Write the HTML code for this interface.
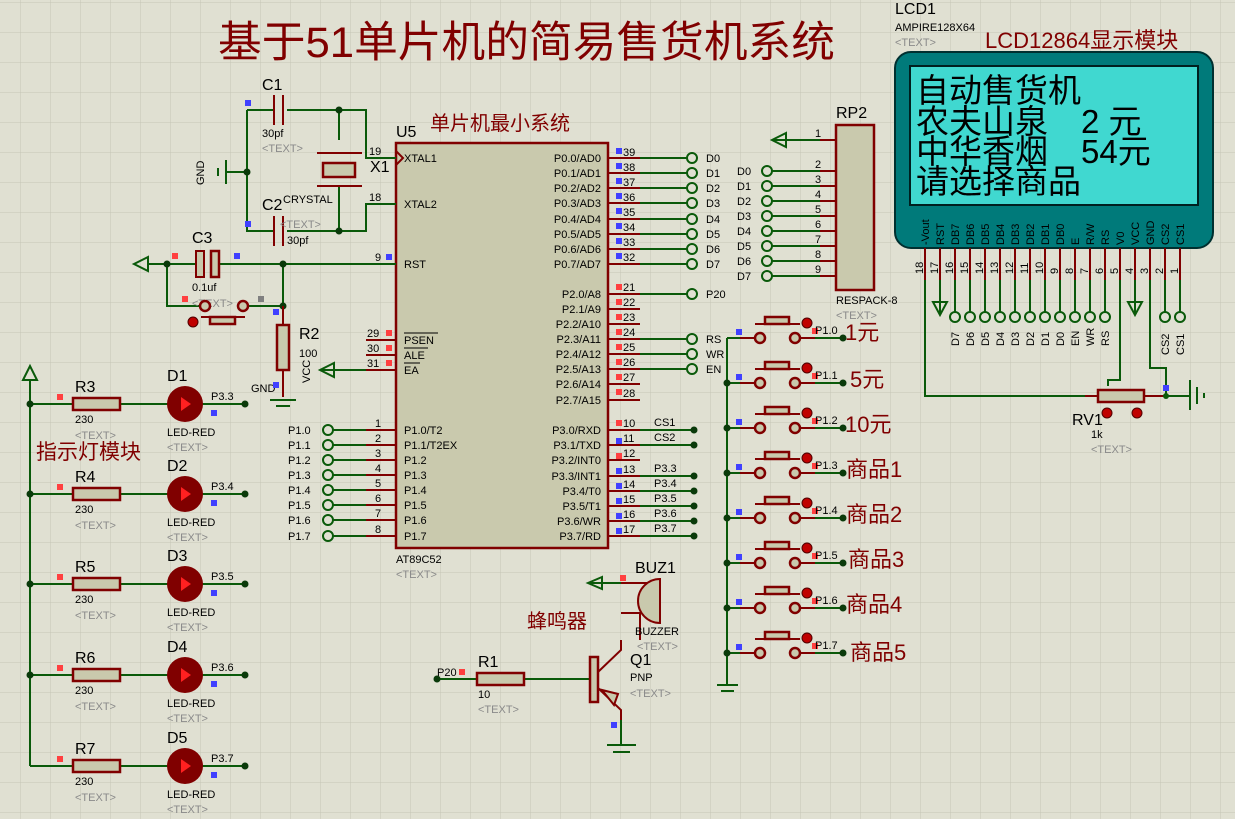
<!DOCTYPE html>
<html><head><meta charset="utf-8"><style>
html,body{margin:0;padding:0;background:#e0e0d2;}
svg{display:block;font-family:"Liberation Sans","Noto Sans CJK SC",sans-serif;}
.w{stroke:#0a5a0a;stroke-width:2;fill:none}
.p{stroke:#800000;stroke-width:2;fill:none}
.b{fill:#c9c9ad;stroke:#800000;stroke-width:2.5}
.t{font-size:11px;fill:#000}
.g{font-size:11px;fill:#8a8a8a}
.n{font-size:16px;fill:#000}
.r{fill:#800000}
.c{fill:#e0e0d2;stroke:#0a5a0a;stroke-width:2}
.bs{fill:#4040ff}.rs{fill:#ff4040}
</style></head><body>
<svg width="1235" height="819" viewBox="0 0 1235 819" xmlns="http://www.w3.org/2000/svg">
<defs>
<pattern id="grid" width="30" height="30" patternUnits="userSpaceOnUse" x="20" y="2">
<path d="M0 0H30M0 0V30" stroke="#c6c6b6" stroke-width="1" fill="none"/>
</pattern>
</defs>
<rect width="1235" height="819" fill="#e0e0d2"/>
<rect width="1235" height="819" fill="url(#grid)"/>

<!-- Title -->
<text x="218" y="57" font-size="43" fill="#800000" textLength="617" lengthAdjust="spacingAndGlyphs">基于51单片机的简易售货机系统</text>

<!-- LCD -->
<text x="895" y="14" class="n">LCD1</text>
<text x="895" y="31" class="t">AMPIRE128X64</text>
<text x="895" y="46" class="g">&lt;TEXT&gt;</text>
<text x="985" y="48" font-size="22" fill="#800000">LCD12864显示模块</text>
<rect x="895" y="52" width="318" height="196" rx="16" fill="#007a7a" stroke="#003030" stroke-width="2"/>
<rect x="910" y="66" width="288" height="139" fill="#40d8d0" stroke="#002020" stroke-width="2"/>
<g font-size="33" fill="#000">
<text x="916" y="102">自动售货机</text>
<text x="916" y="133">农夫山泉　2 元</text>
<text x="916" y="163">中华香烟　54元</text>
<text x="916" y="193">请选择商品</text>
</g>
<g font-size="11" fill="#000">
<text transform="translate(929,245) rotate(-90)">-Vout</text>
<text transform="translate(944,245) rotate(-90)">RST</text>
<text transform="translate(959,245) rotate(-90)">DB7</text>
<text transform="translate(974,245) rotate(-90)">DB6</text>
<text transform="translate(989,245) rotate(-90)">DB5</text>
<text transform="translate(1004,245) rotate(-90)">DB4</text>
<text transform="translate(1019,245) rotate(-90)">DB3</text>
<text transform="translate(1034,245) rotate(-90)">DB2</text>
<text transform="translate(1049,245) rotate(-90)">DB1</text>
<text transform="translate(1064,245) rotate(-90)">DB0</text>
<text transform="translate(1079,245) rotate(-90)">E</text>
<text transform="translate(1094,245) rotate(-90)">R/W</text>
<text transform="translate(1109,245) rotate(-90)">RS</text>
<text transform="translate(1124,245) rotate(-90)">V0</text>
<text transform="translate(1139,245) rotate(-90)">VCC</text>
<text transform="translate(1154,245) rotate(-90)">GND</text>
<text transform="translate(1169,245) rotate(-90)">CS2</text>
<text transform="translate(1184,245) rotate(-90)">CS1</text>
</g>
<path class="p" d="M925 248V280M940 248V280M955 248V280M970 248V280M985 248V280M1000 248V280M1015 248V280M1030 248V280M1045 248V280M1060 248V280M1075 248V280M1090 248V280M1105 248V280M1120 248V280M1135 248V280M1150 248V280M1165 248V280M1180 248V280"/>
<g font-size="11" fill="#000">
<text transform="translate(923,274) rotate(-90)">18</text><text transform="translate(938,274) rotate(-90)">17</text>
<text transform="translate(953,274) rotate(-90)">16</text><text transform="translate(968,274) rotate(-90)">15</text>
<text transform="translate(983,274) rotate(-90)">14</text><text transform="translate(998,274) rotate(-90)">13</text>
<text transform="translate(1013,274) rotate(-90)">12</text><text transform="translate(1028,274) rotate(-90)">11</text>
<text transform="translate(1043,274) rotate(-90)">10</text><text transform="translate(1058,274) rotate(-90)">9</text>
<text transform="translate(1073,274) rotate(-90)">8</text><text transform="translate(1088,274) rotate(-90)">7</text>
<text transform="translate(1103,274) rotate(-90)">6</text><text transform="translate(1118,274) rotate(-90)">5</text>
<text transform="translate(1133,274) rotate(-90)">4</text><text transform="translate(1148,274) rotate(-90)">3</text>
<text transform="translate(1163,274) rotate(-90)">2</text><text transform="translate(1178,274) rotate(-90)">1</text>
</g>
<path class="w" d="M925 280V396H1100M940 280V313M955 280V312M970 280V312M985 280V312M1000 280V312M1015 280V312M1030 280V312M1045 280V312M1060 280V312M1075 280V312M1090 280V312M1105 280V312M1120 280V380H1108V386M1135 280V313M1150 280V368H1166V396H1190M1165 280V312M1180 280V312"/>
<path class="w" d="M933 302L940 315L947 302Z M1128 302L1135 315L1142 302Z"/>
<g class="c"><circle cx="955" cy="317" r="5"/><circle cx="970" cy="317" r="5"/><circle cx="985" cy="317" r="5"/><circle cx="1000" cy="317" r="5"/><circle cx="1015" cy="317" r="5"/><circle cx="1030" cy="317" r="5"/><circle cx="1045" cy="317" r="5"/><circle cx="1060" cy="317" r="5"/><circle cx="1075" cy="317" r="5"/><circle cx="1090" cy="317" r="5"/><circle cx="1105" cy="317" r="5"/><circle cx="1165" cy="317" r="5"/><circle cx="1180" cy="317" r="5"/></g>
<g font-size="11" fill="#000">
<text transform="translate(959,346) rotate(-90)">D7</text><text transform="translate(974,346) rotate(-90)">D6</text>
<text transform="translate(989,346) rotate(-90)">D5</text><text transform="translate(1004,346) rotate(-90)">D4</text>
<text transform="translate(1019,346) rotate(-90)">D3</text><text transform="translate(1034,346) rotate(-90)">D2</text>
<text transform="translate(1049,346) rotate(-90)">D1</text><text transform="translate(1064,346) rotate(-90)">D0</text>
<text transform="translate(1079,346) rotate(-90)">EN</text><text transform="translate(1094,346) rotate(-90)">WR</text>
<text transform="translate(1109,346) rotate(-90)">RS</text>
<text transform="translate(1169,355) rotate(-90)">CS2</text><text transform="translate(1184,355) rotate(-90)">CS1</text>
</g>
<rect x="1098" y="390" width="46" height="12" class="b" stroke-width="2"/>
<path class="p" d="M1085 396H1098M1144 396H1166"/>
<circle cx="1166" cy="396" r="3" fill="#0a5a0a"/>
<path class="w" d="M1190 380V410M1197 387V404M1204 393V398" stroke-width="2"/>
<circle cx="1107" cy="413" r="5" fill="#c00000" stroke="#500000"/><circle cx="1137" cy="413" r="5" fill="#c00000" stroke="#500000"/>
<text x="1072" y="425" class="n">RV1</text><text x="1091" y="438" class="t">1k</text><text x="1091" y="453" class="g">&lt;TEXT&gt;</text>
<rect x="1163" y="385" width="6" height="6" class="bs"/>

<!-- RP2 -->
<text x="836" y="118" class="n">RP2</text>
<rect x="836" y="125" width="38" height="165" class="b"/>
<text x="836" y="304" class="t">RESPACK-8</text><text x="836" y="319" class="g">&lt;TEXT&gt;</text>
<path class="p" d="M820 140H836M820 171H836M820 186H836M820 201H836M820 216H836M820 231H836M820 246H836M820 261H836M820 276H836"/>
<path class="w" d="M772 140H820M786 133L772 140L786 147ZM772 171H820M772 186H820M772 201H820M772 216H820M772 231H820M772 246H820M772 261H820M772 276H820"/>
<g class="c"><circle cx="767" cy="171" r="5"/><circle cx="767" cy="186" r="5"/><circle cx="767" cy="201" r="5"/><circle cx="767" cy="216" r="5"/><circle cx="767" cy="231" r="5"/><circle cx="767" cy="246" r="5"/><circle cx="767" cy="261" r="5"/><circle cx="767" cy="276" r="5"/></g>
<g class="t" font-size="12"><text x="737" y="175">D0</text><text x="737" y="190">D1</text><text x="737" y="205">D2</text><text x="737" y="220">D3</text><text x="737" y="235">D4</text><text x="737" y="250">D5</text><text x="737" y="265">D6</text><text x="737" y="280">D7</text>
<text x="815" y="137">1</text><text x="815" y="168">2</text><text x="815" y="183">3</text><text x="815" y="198">4</text><text x="815" y="213">5</text><text x="815" y="228">6</text><text x="815" y="243">7</text><text x="815" y="258">8</text><text x="815" y="273">9</text></g>

<!-- U5 chip -->
<text x="396" y="137" class="n">U5</text>
<text x="430" y="130" font-size="20" fill="#800000">单片机最小系统</text>
<rect x="396" y="143" width="212" height="405" class="b"/>
<text x="396" y="563" class="t">AT89C52</text><text x="396" y="578" class="g">&lt;TEXT&gt;</text>
<path class="p" d="M366 158H396M366 204H396M366 264H396M366 340H396M366 355H396M366 370H396M366 430H396M366 445H396M366 460H396M366 475H396M366 490H396M366 505H396M366 520H396M366 536H396"/>
<path class="p" d="M608 158H640M608 173H640M608 188H640M608 203H640M608 219H640M608 234H640M608 249H640M608 264H640M608 294H640M608 309H640M608 324H640M608 339H640M608 354H640M608 369H640M608 384H640M608 400H640M608 430H640M608 445H640M608 460H640M608 476H640M608 491H640M608 506H640M608 521H640M608 536H640"/>
<path class="w" d="M640 158H687M640 173H687M640 188H687M640 203H687M640 219H687M640 234H687M640 249H687M640 264H687M640 294H687M640 339H687M640 354H687M640 369H687M640 430H694M640 445H694M640 476H694M640 491H694M640 506H694M640 521H694M640 536H694"/>
<g class="c"><circle cx="692" cy="158" r="5"/><circle cx="692" cy="173" r="5"/><circle cx="692" cy="188" r="5"/><circle cx="692" cy="203" r="5"/><circle cx="692" cy="219" r="5"/><circle cx="692" cy="234" r="5"/><circle cx="692" cy="249" r="5"/><circle cx="692" cy="264" r="5"/><circle cx="692" cy="294" r="5"/><circle cx="692" cy="339" r="5"/><circle cx="692" cy="354" r="5"/><circle cx="692" cy="369" r="5"/></g>
<g fill="#0a3a0a"><circle cx="694" cy="430" r="3.5"/><circle cx="694" cy="445" r="3.5"/><circle cx="694" cy="476" r="3.5"/><circle cx="694" cy="491" r="3.5"/><circle cx="694" cy="506" r="3.5"/><circle cx="694" cy="521" r="3.5"/><circle cx="694" cy="536" r="3.5"/></g>
<g font-size="11" fill="#000">
<text x="706" y="162">D0</text><text x="706" y="177">D1</text><text x="706" y="192">D2</text><text x="706" y="207">D3</text><text x="706" y="223">D4</text><text x="706" y="238">D5</text><text x="706" y="253">D6</text><text x="706" y="268">D7</text><text x="706" y="298">P20</text>
<text x="706" y="343">RS</text><text x="706" y="358">WR</text><text x="706" y="373">EN</text>
<text x="654" y="426">CS1</text><text x="654" y="441">CS2</text><text x="654" y="472">P3.3</text><text x="654" y="487">P3.4</text><text x="654" y="502">P3.5</text><text x="654" y="517">P3.6</text><text x="654" y="532">P3.7</text>
<text x="623" y="156">39</text><text x="623" y="171">38</text><text x="623" y="186">37</text><text x="623" y="201">36</text><text x="623" y="216">35</text><text x="623" y="231">34</text><text x="623" y="246">33</text><text x="623" y="261">32</text>
<text x="623" y="291">21</text><text x="623" y="306">22</text><text x="623" y="321">23</text><text x="623" y="336">24</text><text x="623" y="351">25</text><text x="623" y="366">26</text><text x="623" y="381">27</text><text x="623" y="397">28</text>
<text x="623" y="427">10</text><text x="623" y="442">11</text><text x="623" y="457">12</text><text x="623" y="473">13</text><text x="623" y="488">14</text><text x="623" y="503">15</text><text x="623" y="518">16</text><text x="623" y="533">17</text>
<g text-anchor="end">
<text x="601" y="162">P0.0/AD0</text><text x="601" y="177">P0.1/AD1</text><text x="601" y="192">P0.2/AD2</text><text x="601" y="207">P0.3/AD3</text><text x="601" y="223">P0.4/AD4</text><text x="601" y="238">P0.5/AD5</text><text x="601" y="253">P0.6/AD6</text><text x="601" y="268">P0.7/AD7</text>
<text x="601" y="298">P2.0/A8</text><text x="601" y="313">P2.1/A9</text><text x="601" y="328">P2.2/A10</text><text x="601" y="343">P2.3/A11</text><text x="601" y="358">P2.4/A12</text><text x="601" y="373">P2.5/A13</text><text x="601" y="388">P2.6/A14</text><text x="601" y="404">P2.7/A15</text>
<text x="601" y="434">P3.0/RXD</text><text x="601" y="449">P3.1/TXD</text><text x="601" y="464">P3.2/INT0</text><text x="601" y="480">P3.3/INT1</text><text x="601" y="495">P3.4/T0</text><text x="601" y="510">P3.5/T1</text><text x="601" y="525">P3.6/WR</text><text x="601" y="540">P3.7/RD</text>
</g>
<text x="404" y="162">XTAL1</text><text x="404" y="208">XTAL2</text><text x="404" y="268">RST</text>
<text x="404" y="344">PSEN</text><text x="404" y="359">ALE</text><text x="404" y="374">EA</text>
<text x="404" y="434">P1.0/T2</text><text x="404" y="449">P1.1/T2EX</text><text x="404" y="464">P1.2</text><text x="404" y="479">P1.3</text><text x="404" y="494">P1.4</text><text x="404" y="509">P1.5</text><text x="404" y="524">P1.6</text><text x="404" y="540">P1.7</text>
<text x="369" y="155">19</text><text x="369" y="201">18</text><text x="375" y="261">9</text><text x="367" y="337">29</text><text x="367" y="352">30</text><text x="367" y="367">31</text>
<text x="375" y="427">1</text><text x="375" y="442">2</text><text x="375" y="457">3</text><text x="375" y="472">4</text><text x="375" y="487">5</text><text x="375" y="502">6</text><text x="375" y="517">7</text><text x="375" y="533">8</text>
<text x="288" y="434">P1.0</text><text x="288" y="449">P1.1</text><text x="288" y="464">P1.2</text><text x="288" y="479">P1.3</text><text x="288" y="494">P1.4</text><text x="288" y="509">P1.5</text><text x="288" y="524">P1.6</text><text x="288" y="540">P1.7</text>
</g>
<path stroke="#000" stroke-width="1" d="M404 333H438M404 348H428M404 363H420"/>
<path class="w" d="M333 430H366M333 445H366M333 460H366M333 475H366M333 490H366M333 505H366M333 520H366M333 536H366"/>
<g class="c"><circle cx="328" cy="430" r="5"/><circle cx="328" cy="445" r="5"/><circle cx="328" cy="460" r="5"/><circle cx="328" cy="475" r="5"/><circle cx="328" cy="490" r="5"/><circle cx="328" cy="505" r="5"/><circle cx="328" cy="520" r="5"/><circle cx="328" cy="536" r="5"/></g>
<g class="bs"><rect x="616" y="148" width="6" height="6"/><rect x="616" y="163" width="6" height="6"/><rect x="616" y="178" width="6" height="6"/><rect x="616" y="193" width="6" height="6"/><rect x="616" y="208" width="6" height="6"/><rect x="616" y="223" width="6" height="6"/><rect x="616" y="238" width="6" height="6"/><rect x="616" y="253" width="6" height="6"/>
<rect x="616" y="438" width="6" height="6"/><rect x="616" y="468" width="6" height="6"/><rect x="616" y="483" width="6" height="6"/><rect x="616" y="498" width="6" height="6"/><rect x="616" y="513" width="6" height="6"/><rect x="616" y="528" width="6" height="6"/><rect x="386" y="254" width="6" height="6"/></g>
<g class="rs"><rect x="616" y="284" width="6" height="6"/><rect x="616" y="299" width="6" height="6"/><rect x="616" y="314" width="6" height="6"/><rect x="616" y="329" width="6" height="6"/><rect x="616" y="344" width="6" height="6"/><rect x="616" y="359" width="6" height="6"/><rect x="616" y="374" width="6" height="6"/><rect x="616" y="389" width="6" height="6"/><rect x="616" y="420" width="6" height="6"/><rect x="616" y="453" width="6" height="6"/>
<rect x="386" y="330" width="6" height="6"/><rect x="386" y="345" width="6" height="6"/><rect x="386" y="360" width="6" height="6"/></g>

<!-- crystal section -->
<text x="262" y="90" class="n">C1</text><text x="262" y="137" class="t">30pf</text><text x="262" y="152" class="g">&lt;TEXT&gt;</text>
<path class="w" d="M247 110H274M287 110H366V158H396M339 110V140M247 110V231H274M287 231H366V204H396M339 186V231M227 172H247"/>
<path class="p" d="M274 95V125M283 95V125M274 216V246M283 216V246M317 153H362M317 186H362"/>
<rect x="323" y="163" width="32" height="14" class="b" stroke-width="2"/>
<circle cx="339" cy="110" r="3.5" fill="#0a3a0a"/><circle cx="339" cy="231" r="3.5" fill="#0a3a0a"/><circle cx="247" cy="172" r="3.5" fill="#0a3a0a"/>
<path class="w" d="M226 160V184M218 168V176"/>
<text transform="translate(204,185) rotate(-90)" class="t">GND</text>
<text x="370" y="172" class="n" font-size="18">X1</text><text x="283" y="203" class="t">CRYSTAL</text>
<text x="262" y="210" class="n">C2</text><text x="280" y="228" class="g">&lt;TEXT&gt;</text><text x="287" y="244" class="t">30pf</text>
<rect x="245" y="100" width="6" height="6" class="bs"/><rect x="245" y="221" width="6" height="6" class="bs"/>
<path d="M396 151L403 158L396 165" class="p" stroke-width="1.5"/>

<!-- RST -->
<text x="192" y="243" class="n">C3</text>
<path class="w" d="M148 264H196M220 264H396M167 264V306H200M248 306H283M283 264V306"/>
<path d="M148 257L134 264L148 271Z" class="w"/>
<rect x="196" y="251" width="8" height="26" fill="#c9c9ad" stroke="#800000" stroke-width="2"/>
<rect x="211" y="251" width="8" height="26" class="b" stroke-width="2"/>
<circle cx="167" cy="264" r="3.5" fill="#0a3a0a"/><circle cx="283" cy="264" r="3.5" fill="#0a3a0a"/><circle cx="283" cy="306" r="3.5" fill="#0a3a0a"/>
<text x="192" y="291" class="t">0.1uf</text><text x="192" y="307" class="g">&lt;TEXT&gt;</text>
<circle cx="205" cy="306" r="5" class="b" stroke-width="2"/><circle cx="243" cy="306" r="5" class="b" stroke-width="2"/>
<rect x="210" y="317" width="25" height="7" class="b" stroke-width="2"/><path class="p" d="M201 317H245"/>
<circle cx="193" cy="322" r="5" fill="#c00000" stroke="#500000"/>
<rect x="277" y="325" width="12" height="45" class="b" stroke-width="2"/>
<path class="p" d="M283 306V325M283 370V397"/>
<path class="w" d="M270 400H296M276 406H290"/>
<text x="299" y="339" class="n">R2</text><text x="299" y="357" class="t">100</text>
<text x="251" y="392" class="t">GND</text><text transform="translate(310,383) rotate(-90)" class="t">VCC</text>
<path class="w" d="M320 370H366M334 363L320 370L334 377Z"/>
<rect x="172" y="253" width="6" height="6" class="rs"/><rect x="234" y="253" width="6" height="6" class="bs"/><rect x="182" y="296" width="6" height="6" class="rs"/><rect x="258" y="296" width="6" height="6" fill="#808080"/><rect x="273" y="309" width="6" height="6" class="bs"/><rect x="273" y="382" width="6" height="6" class="bs"/>

<!-- LED module -->
<path class="w" d="M30 380V766M23 380L30 366L37 380Z"/>
<text x="36" y="459" font-size="21" fill="#800000">指示灯模块</text>
<g>
<path class="w" d="M30 404H73M121 404H168M200 404H245"/><rect x="73" y="398" width="47" height="12" class="b" stroke-width="2"/>
<circle cx="30" cy="404" r="3.5" fill="#0a3a0a"/><circle cx="245" cy="404" r="3.5" fill="#0a3a0a"/>
<circle cx="185" cy="404" r="18" fill="#800000"/><path d="M181 397L191 404L181 411Z" fill="#ff2020"/>
<text x="75" y="392" class="n">R3</text><text x="75" y="423" class="t">230</text><text x="75" y="439" class="g">&lt;TEXT&gt;</text>
<text x="167" y="381" class="n">D1</text><text x="167" y="436" class="t">LED-RED</text><text x="167" y="451" class="g">&lt;TEXT&gt;</text><text x="211" y="400" class="t">P3.3</text>
<rect x="57" y="394" width="6" height="6" class="rs"/><rect x="211" y="410" width="6" height="6" class="bs"/>
</g>
<g transform="translate(0,90)">
<path class="w" d="M30 404H73M121 404H168M200 404H245"/><rect x="73" y="398" width="47" height="12" class="b" stroke-width="2"/>
<circle cx="30" cy="404" r="3.5" fill="#0a3a0a"/><circle cx="245" cy="404" r="3.5" fill="#0a3a0a"/>
<circle cx="185" cy="404" r="18" fill="#800000"/><path d="M181 397L191 404L181 411Z" fill="#ff2020"/>
<text x="75" y="392" class="n">R4</text><text x="75" y="423" class="t">230</text><text x="75" y="439" class="g">&lt;TEXT&gt;</text>
<text x="167" y="381" class="n">D2</text><text x="167" y="436" class="t">LED-RED</text><text x="167" y="451" class="g">&lt;TEXT&gt;</text><text x="211" y="400" class="t">P3.4</text>
<rect x="57" y="394" width="6" height="6" class="rs"/><rect x="211" y="410" width="6" height="6" class="bs"/>
</g>
<g transform="translate(0,180)">
<path class="w" d="M30 404H73M121 404H168M200 404H245"/><rect x="73" y="398" width="47" height="12" class="b" stroke-width="2"/>
<circle cx="30" cy="404" r="3.5" fill="#0a3a0a"/><circle cx="245" cy="404" r="3.5" fill="#0a3a0a"/>
<circle cx="185" cy="404" r="18" fill="#800000"/><path d="M181 397L191 404L181 411Z" fill="#ff2020"/>
<text x="75" y="392" class="n">R5</text><text x="75" y="423" class="t">230</text><text x="75" y="439" class="g">&lt;TEXT&gt;</text>
<text x="167" y="381" class="n">D3</text><text x="167" y="436" class="t">LED-RED</text><text x="167" y="451" class="g">&lt;TEXT&gt;</text><text x="211" y="400" class="t">P3.5</text>
<rect x="57" y="394" width="6" height="6" class="rs"/><rect x="211" y="410" width="6" height="6" class="bs"/>
</g>
<g transform="translate(0,271)">
<path class="w" d="M30 404H73M121 404H168M200 404H245"/><rect x="73" y="398" width="47" height="12" class="b" stroke-width="2"/>
<circle cx="30" cy="404" r="3.5" fill="#0a3a0a"/><circle cx="245" cy="404" r="3.5" fill="#0a3a0a"/>
<circle cx="185" cy="404" r="18" fill="#800000"/><path d="M181 397L191 404L181 411Z" fill="#ff2020"/>
<text x="75" y="392" class="n">R6</text><text x="75" y="423" class="t">230</text><text x="75" y="439" class="g">&lt;TEXT&gt;</text>
<text x="167" y="381" class="n">D4</text><text x="167" y="436" class="t">LED-RED</text><text x="167" y="451" class="g">&lt;TEXT&gt;</text><text x="211" y="400" class="t">P3.6</text>
<rect x="57" y="394" width="6" height="6" class="rs"/><rect x="211" y="410" width="6" height="6" class="bs"/>
</g>
<g transform="translate(0,362)">
<path class="w" d="M30 404H73M121 404H168M200 404H245"/><rect x="73" y="398" width="47" height="12" class="b" stroke-width="2"/>
<circle cx="245" cy="404" r="3.5" fill="#0a3a0a"/>
<circle cx="185" cy="404" r="18" fill="#800000"/><path d="M181 397L191 404L181 411Z" fill="#ff2020"/>
<text x="75" y="392" class="n">R7</text><text x="75" y="423" class="t">230</text><text x="75" y="439" class="g">&lt;TEXT&gt;</text>
<text x="167" y="381" class="n">D5</text><text x="167" y="436" class="t">LED-RED</text><text x="167" y="451" class="g">&lt;TEXT&gt;</text><text x="211" y="400" class="t">P3.7</text>
<rect x="57" y="394" width="6" height="6" class="rs"/><rect x="211" y="410" width="6" height="6" class="bs"/>
</g>

<!-- Buttons -->
<path class="w" d="M727 338V685M717 685H738M721 691H734"/>
<g>
<path class="w" d="M727 338H740M800 338H843"/><path class="p" d="M740 338H755M800 338H815"/>
<circle cx="760" cy="338" r="5" class="b" stroke-width="2"/><circle cx="795" cy="338" r="5" class="b" stroke-width="2"/>
<rect x="765" y="317" width="24" height="7" class="b" stroke-width="2"/><path class="p" d="M755 324H800"/>
<circle cx="807" cy="323" r="5" fill="#c00000" stroke="#500000"/><circle cx="843" cy="338" r="3.5" fill="#0a3a0a"/>
<rect x="736" y="329" width="6" height="6" class="bs"/><rect x="812" y="328" width="6" height="6" class="rs"/>
</g>
<text x="815" y="334" class="t">P1.0</text><text x="845" y="340" font-size="22" fill="#800000">1元</text>
<g transform="translate(0,45)"><path class="w" d="M727 338H740M800 338H843"/><path class="p" d="M740 338H755M800 338H815"/><circle cx="760" cy="338" r="5" class="b" stroke-width="2"/><circle cx="795" cy="338" r="5" class="b" stroke-width="2"/><rect x="765" y="317" width="24" height="7" class="b" stroke-width="2"/><path class="p" d="M755 324H800"/><circle cx="807" cy="323" r="5" fill="#c00000" stroke="#500000"/><circle cx="843" cy="338" r="3.5" fill="#0a3a0a"/><circle cx="727" cy="338" r="3.5" fill="#0a3a0a"/><rect x="736" y="329" width="6" height="6" class="bs"/><rect x="812" y="328" width="6" height="6" class="rs"/>
<text x="815" y="334" class="t">P1.1</text><text x="850" y="342" font-size="22" fill="#800000">5元</text></g>
<g transform="translate(0,90)"><path class="w" d="M727 338H740M800 338H843"/><path class="p" d="M740 338H755M800 338H815"/><circle cx="760" cy="338" r="5" class="b" stroke-width="2"/><circle cx="795" cy="338" r="5" class="b" stroke-width="2"/><rect x="765" y="317" width="24" height="7" class="b" stroke-width="2"/><path class="p" d="M755 324H800"/><circle cx="807" cy="323" r="5" fill="#c00000" stroke="#500000"/><circle cx="843" cy="338" r="3.5" fill="#0a3a0a"/><circle cx="727" cy="338" r="3.5" fill="#0a3a0a"/><rect x="736" y="329" width="6" height="6" class="bs"/><rect x="812" y="328" width="6" height="6" class="rs"/>
<text x="815" y="334" class="t">P1.2</text><text x="845" y="342" font-size="22" fill="#800000">10元</text></g>
<g transform="translate(0,135)"><path class="w" d="M727 338H740M800 338H843"/><path class="p" d="M740 338H755M800 338H815"/><circle cx="760" cy="338" r="5" class="b" stroke-width="2"/><circle cx="795" cy="338" r="5" class="b" stroke-width="2"/><rect x="765" y="317" width="24" height="7" class="b" stroke-width="2"/><path class="p" d="M755 324H800"/><circle cx="807" cy="323" r="5" fill="#c00000" stroke="#500000"/><circle cx="843" cy="338" r="3.5" fill="#0a3a0a"/><circle cx="727" cy="338" r="3.5" fill="#0a3a0a"/><rect x="736" y="329" width="6" height="6" class="bs"/><rect x="812" y="328" width="6" height="6" class="rs"/>
<text x="815" y="334" class="t">P1.3</text><text x="846" y="342" font-size="22" fill="#800000">商品1</text></g>
<g transform="translate(0,180)"><path class="w" d="M727 338H740M800 338H843"/><path class="p" d="M740 338H755M800 338H815"/><circle cx="760" cy="338" r="5" class="b" stroke-width="2"/><circle cx="795" cy="338" r="5" class="b" stroke-width="2"/><rect x="765" y="317" width="24" height="7" class="b" stroke-width="2"/><path class="p" d="M755 324H800"/><circle cx="807" cy="323" r="5" fill="#c00000" stroke="#500000"/><circle cx="843" cy="338" r="3.5" fill="#0a3a0a"/><circle cx="727" cy="338" r="3.5" fill="#0a3a0a"/><rect x="736" y="329" width="6" height="6" class="bs"/><rect x="812" y="328" width="6" height="6" class="rs"/>
<text x="815" y="334" class="t">P1.4</text><text x="846" y="342" font-size="22" fill="#800000">商品2</text></g>
<g transform="translate(0,225)"><path class="w" d="M727 338H740M800 338H843"/><path class="p" d="M740 338H755M800 338H815"/><circle cx="760" cy="338" r="5" class="b" stroke-width="2"/><circle cx="795" cy="338" r="5" class="b" stroke-width="2"/><rect x="765" y="317" width="24" height="7" class="b" stroke-width="2"/><path class="p" d="M755 324H800"/><circle cx="807" cy="323" r="5" fill="#c00000" stroke="#500000"/><circle cx="843" cy="338" r="3.5" fill="#0a3a0a"/><circle cx="727" cy="338" r="3.5" fill="#0a3a0a"/><rect x="736" y="329" width="6" height="6" class="bs"/><rect x="812" y="328" width="6" height="6" class="rs"/>
<text x="815" y="334" class="t">P1.5</text><text x="848" y="342" font-size="22" fill="#800000">商品3</text></g>
<g transform="translate(0,270)"><path class="w" d="M727 338H740M800 338H843"/><path class="p" d="M740 338H755M800 338H815"/><circle cx="760" cy="338" r="5" class="b" stroke-width="2"/><circle cx="795" cy="338" r="5" class="b" stroke-width="2"/><rect x="765" y="317" width="24" height="7" class="b" stroke-width="2"/><path class="p" d="M755 324H800"/><circle cx="807" cy="323" r="5" fill="#c00000" stroke="#500000"/><circle cx="843" cy="338" r="3.5" fill="#0a3a0a"/><circle cx="727" cy="338" r="3.5" fill="#0a3a0a"/><rect x="736" y="329" width="6" height="6" class="bs"/><rect x="812" y="328" width="6" height="6" class="rs"/>
<text x="815" y="334" class="t">P1.6</text><text x="846" y="342" font-size="22" fill="#800000">商品4</text></g>
<g transform="translate(0,315)"><path class="w" d="M727 338H740M800 338H843"/><path class="p" d="M740 338H755M800 338H815"/><circle cx="760" cy="338" r="5" class="b" stroke-width="2"/><circle cx="795" cy="338" r="5" class="b" stroke-width="2"/><rect x="765" y="317" width="24" height="7" class="b" stroke-width="2"/><path class="p" d="M755 324H800"/><circle cx="807" cy="323" r="5" fill="#c00000" stroke="#500000"/><circle cx="843" cy="338" r="3.5" fill="#0a3a0a"/><circle cx="727" cy="338" r="3.5" fill="#0a3a0a"/><rect x="736" y="329" width="6" height="6" class="bs"/><rect x="812" y="328" width="6" height="6" class="rs"/>
<text x="815" y="334" class="t">P1.7</text><text x="850" y="345" font-size="22" fill="#800000">商品5</text></g>

<!-- Buzzer / transistor -->
<text x="635" y="573" class="n">BUZ1</text>
<path class="w" d="M588 583H621M602 577L588 583L602 589Z"/>
<path class="p" d="M621 583H660M621 613H640V640"/>
<path d="M660 579V623A22 22 0 0 1 660 579Z" fill="#c9c9ad" stroke="#800000" stroke-width="2"/>
<rect x="620" y="575" width="6" height="6" class="rs"/>
<text x="635" y="635" class="t">BUZZER</text><text x="637" y="650" class="g">&lt;TEXT&gt;</text>
<text x="527" y="628" font-size="20" fill="#800000">蜂鸣器</text>
<path class="w" d="M437 679H477M525 679H590"/><circle cx="437" cy="679" r="3.5" fill="#0a3a0a"/>
<text x="437" y="676" class="t">P20</text><rect x="459" y="669" width="6" height="6" class="rs"/>
<rect x="477" y="673" width="47" height="12" class="b" stroke-width="2"/>
<text x="478" y="667" class="n">R1</text><text x="478" y="698" class="t">10</text><text x="478" y="713" class="g">&lt;TEXT&gt;</text>
<rect x="590" y="657" width="8" height="45" class="b" stroke-width="2"/>
<path class="p" d="M598 672L621 650V640M598 688L621 710V725"/>
<path d="M602 690L614 705L618 694Z" fill="#c9c9ad" stroke="#800000" stroke-width="2"/>
<path class="w" d="M621 720V745M607 745H636M613 752H630"/>
<rect x="611" y="722" width="6" height="6" class="bs"/>
<text x="630" y="665" class="n">Q1</text><text x="630" y="681" class="t">PNP</text><text x="630" y="697" class="g">&lt;TEXT&gt;</text>
</svg>
</body></html>
